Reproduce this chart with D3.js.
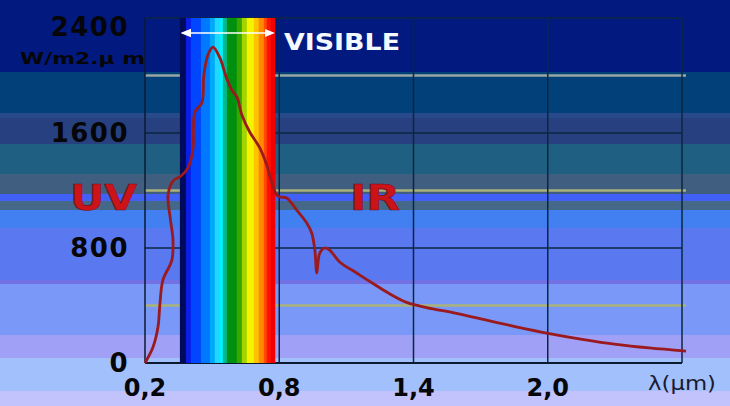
<!DOCTYPE html>
<html>
<head>
<meta charset="utf-8">
<script src="https://cdn.jsdelivr.net/npm/d3@7"></script>
<style>
  body { margin: 0; background: #000; }
  svg { display: block; }
</style>
</head>
<body>
<div id="svg-container"></div>
<script>
// solar irradiance curve
var wavelength = [0.200, 0.236, 0.258, 0.267, 0.280, 0.320, 0.325, 0.312, 0.303, 0.325, 0.361, 0.392, 0.414,
                  0.423, 0.454, 0.463, 0.481, 0.504, 0.535, 0.561, 0.588, 0.611, 0.633, 0.668, 0.713, 0.744,
                  0.766, 0.789, 0.802, 0.833, 0.878, 0.923, 0.945, 0.959, 0.968, 0.981, 1.003, 1.025, 1.070,
                  1.146, 1.217, 1.293, 1.369, 1.458, 1.592, 1.726, 1.859, 2.007, 2.154, 2.306, 2.453, 2.618];
var irradiance = [0, 111, 250, 417, 577, 716, 856, 1016, 1169, 1266, 1301, 1357, 1482,
                  1746, 1809, 2003, 2143, 2198, 2122, 1997, 1899, 1850, 1725, 1607, 1496, 1377,
                  1259, 1169, 1155, 1148, 1064, 974, 904, 786, 626, 765, 800, 786, 703,
                  626, 555, 482, 422, 386, 345, 298, 252, 205, 165, 130, 105, 83];

var xTicks = [0.2, 0.8, 1.4, 2.0];
var xTickLabels = ["0,2", "0,8", "1,4", "2,0"];
var yTicks = [0, 800, 1600, 2400];
var yTickLabels = ["0", "800", "1600", "2400"];
var xGrid = [0.8, 1.4, 2.0, 2.6];
var yGridDark = [800, 1600, 2400];
var yGridLight = [400, 1200, 2000];

// visible band: start of each colour strip (µm)
var bandStart = [0.356, 0.383, 0.405, 0.450, 0.490, 0.512, 0.535, 0.548, 0.566, 0.610, 0.633, 0.655,
                 0.686, 0.708, 0.731, 0.744, 0.762];
var bandEnd = 0.780;
var bandColors = ["#000a5a", "#0a1ee8", "#0046ff", "#0078ff", "#00a8f8", "#20d8ff", "#00f4ff", "#00b890",
                  "#009010", "#38a800", "#a4d400", "#f4f400", "#ffc400", "#ff8a00", "#ff4a00", "#ff1000",
                  "#f00000"];

var width = 730, height = 406;

var svg = d3.select("#svg-container").append("svg")
    .attr("width", width)
    .attr("height", height)
    .attr("font-family", "DejaVu Sans, sans-serif");

// banded background
var bg = [[0, "#021a80"], [72, "#02407a"], [113, "#284a8a"], [118, "#27407f"], [144, "#1f6082"],
          [174, "#405e80"], [194, "#4060f6"], [201, "#456888"], [210, "#4280f2"], [228, "#5a78f0"],
          [280, "#7272e4"], [284, "#7a98f8"], [335, "#a0a0f6"], [358, "#a2c0fc"], [391, "#c2c2fc"]];
svg.selectAll(".bg")
  .data(bg)
  .enter().append("rect")
    .attr("class", "bg")
    .attr("x", 0)
    .attr("width", width)
    .attr("y", function(d) { return d[0]; })
    .attr("height", function(d, i) { return (i < bg.length - 1 ? bg[i + 1][0] : height) - d[0]; })
    .attr("fill", function(d) { return d[1]; });

var x = d3.scaleLinear().domain([0.2, 2.6]).range([145, 682]);
var y = d3.scaleLinear().domain([0, 2400]).range([363, 18]);

// light grid lines
svg.selectAll(".glight")
  .data(yGridLight)
  .enter().append("line")
    .attr("x1", x(0.2)).attr("x2", x(2.6) + 4)
    .attr("y1", function(d) { return y(d); })
    .attr("y2", function(d) { return y(d); })
    .attr("stroke", function(d) { return d == 2000 ? "#9aa6a4" : "#aab27a"; })
    .attr("stroke-width", 2.5);

// dark grid lines
svg.selectAll(".gdark")
  .data(yGridDark)
  .enter().append("line")
    .attr("x1", x(0.2)).attr("x2", x(2.6))
    .attr("y1", function(d) { return y(d); })
    .attr("y2", function(d) { return y(d); })
    .attr("stroke", "#0c2640")
    .attr("stroke-width", 1.5);

svg.selectAll(".gx")
  .data(xGrid)
  .enter().append("line")
    .attr("x1", function(d) { return x(d); })
    .attr("x2", function(d) { return x(d); })
    .attr("y1", y(2400)).attr("y2", y(0))
    .attr("stroke", "#0c2640")
    .attr("stroke-width", 1.5);

// axes frame
svg.append("line")
    .attr("x1", x(0.2)).attr("x2", x(0.2))
    .attr("y1", y(2400)).attr("y2", y(0))
    .attr("stroke", "#0c1a30").attr("stroke-width", 1.5);
svg.append("line")
    .attr("x1", x(0.2)).attr("x2", x(2.6))
    .attr("y1", y(0)).attr("y2", y(0))
    .attr("stroke", "#0c1a30").attr("stroke-width", 2);

// visible spectrum band
svg.selectAll(".band")
  .data(bandStart)
  .enter().append("rect")
    .attr("class", "band")
    .attr("x", function(d) { return x(d); })
    .attr("width", function(d, i) { return x(i < bandStart.length - 1 ? bandStart[i + 1] : bandEnd) - x(d) + 0.5; })
    .attr("y", y(2400))
    .attr("height", y(0) - y(2400))
    .attr("fill", function(d, i) { return bandColors[i]; });

// double arrow above the band
var defs = svg.append("defs");
["s", "e"].forEach(function(k) {
  defs.append("marker")
      .attr("id", "arr-" + k)
      .attr("viewBox", "0 0 10 10")
      .attr("refX", 5).attr("refY", 5)
      .attr("markerWidth", 7).attr("markerHeight", 7)
      .attr("orient", k == "s" ? "auto-start-reverse" : "auto")
    .append("path")
      .attr("d", "M0,1 L10,5 L0,9 Z")
      .attr("fill", "#ffffff");
});
svg.append("line")
    .attr("x1", x(bandStart[0]) + 6).attr("x2", x(bandEnd) - 5)
    .attr("y1", 33).attr("y2", 33)
    .attr("stroke", "#ffffff")
    .attr("stroke-width", 1.5)
    .attr("marker-start", "url(#arr-s)")
    .attr("marker-end", "url(#arr-e)");

svg.append("text")
    .attr("x", 284).attr("y", 50)
    .attr("font-size", 23).attr("font-weight", "bold")
    .attr("fill", "#f4f8ff")
    .attr("textLength", 116).attr("lengthAdjust", "spacingAndGlyphs")
    .text("VISIBLE");

// irradiance curve
var pts = wavelength.map(function(w, i) { return [w, irradiance[i]]; });
var line = d3.line()
    .x(function(d) { return x(d[0]); })
    .y(function(d) { return y(d[1]); })
    .curve(d3.curveCatmullRom.alpha(0.5));

svg.append("path")
    .datum(pts)
    .attr("d", line)
    .attr("fill", "none")
    .attr("stroke", "#9a1a1e")
    .attr("stroke-width", 2.8)
    .attr("stroke-linejoin", "round");

// y labels
svg.selectAll(".ylab")
  .data(yTicks)
  .enter().append("text")
    .attr("x", 129)
    .attr("y", function(d) { return Math.max(y(d), 27); })
    .attr("dy", "0.36em")
    .attr("text-anchor", "end")
    .attr("font-size", 26).attr("font-weight", "bold")
    .attr("letter-spacing", 1.5)
    .attr("fill", "#060608")
    .text(function(d, i) { return yTickLabels[i]; });

svg.append("text")
    .attr("x", 20).attr("y", 64)
    .attr("font-size", 16).attr("font-weight", "bold")
    .attr("fill", "#060608")
    .attr("textLength", 125).attr("lengthAdjust", "spacingAndGlyphs")
    .text("W/m2.\u00b5 m");

// x labels
svg.selectAll(".xlab")
  .data(xTicks)
  .enter().append("text")
    .attr("x", function(d) { return x(d); })
    .attr("y", 387)
    .attr("dy", "0.36em")
    .attr("text-anchor", "middle")
    .attr("font-size", 24).attr("font-weight", "bold")
    .attr("fill", "#060608")
    .text(function(d, i) { return xTickLabels[i]; });

svg.append("text")
    .attr("x", 648).attr("y", 390)
    .attr("font-size", 20)
    .attr("fill", "#1a1a30")
    .attr("textLength", 68).attr("lengthAdjust", "spacingAndGlyphs")
    .text("\u03bb(\u00b5m)");

// UV / IR
svg.append("text")
    .attr("x", 70).attr("y", 210)
    .attr("font-size", 35).attr("font-weight", "bold")
    .attr("fill", "#cc1418").attr("stroke", "#701020").attr("stroke-width", 0.7)
    .attr("textLength", 67).attr("lengthAdjust", "spacingAndGlyphs")
    .text("UV");
svg.append("text")
    .attr("x", 350).attr("y", 210)
    .attr("font-size", 36).attr("font-weight", "bold")
    .attr("fill", "#cc1418").attr("stroke", "#701020").attr("stroke-width", 0.7)
    .attr("textLength", 50).attr("lengthAdjust", "spacingAndGlyphs")
    .text("IR");
</script>
</body>
</html>
